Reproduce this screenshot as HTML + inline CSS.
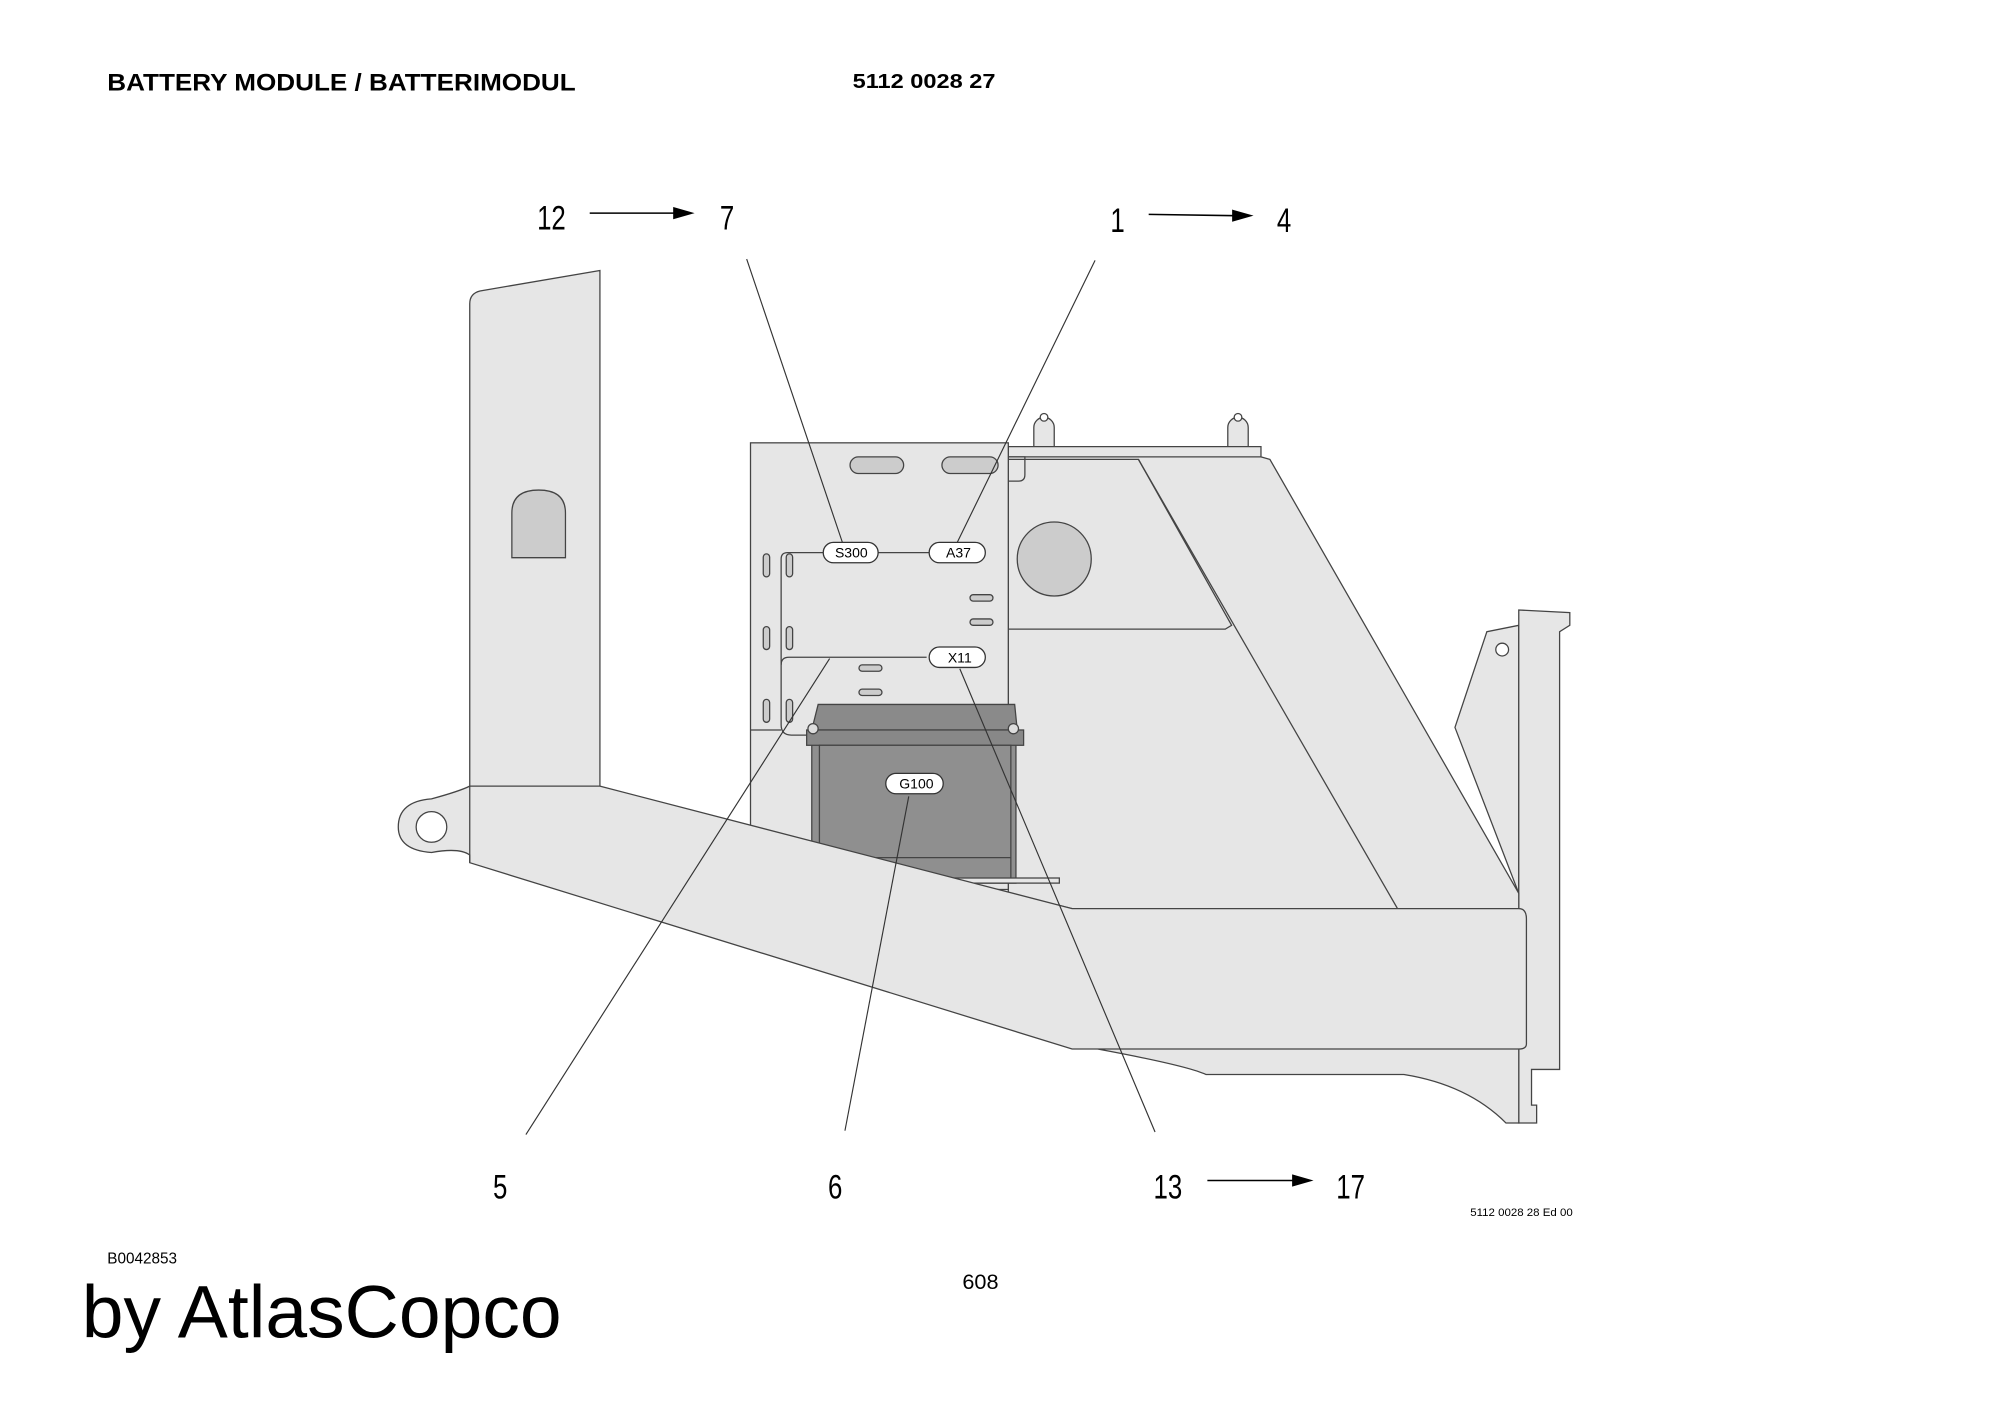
<!DOCTYPE html>
<html><head><meta charset="utf-8"><style>
html,body{margin:0;padding:0;background:#fff;}
svg{display:block;}
</style></head><body>
<svg width="2000" height="1414" viewBox="0 0 1567 1108" xmlns="http://www.w3.org/2000/svg">
<rect width="1567" height="1108" fill="#fff"/>
<g font-family="Liberation Sans, Arial, sans-serif" fill="#000">
<text x="84" y="71" font-size="19" font-weight="bold" textLength="367" lengthAdjust="spacingAndGlyphs">BATTERY MODULE / BATTERIMODUL</text>
<text x="668" y="69" font-size="16" font-weight="bold" textLength="112" lengthAdjust="spacingAndGlyphs">5112 0028 27</text>
<text x="1152" y="953" font-size="9">5112 0028 28 Ed 00</text>
<text x="84" y="990" font-size="12">B0042853</text>
<text x="754" y="1010" font-size="17">608</text>
<text x="64" y="1048" font-size="58" textLength="376" lengthAdjust="spacingAndGlyphs">by AtlasCopco</text>
</g>
<g font-family="Liberation Sans Narrow, Liberation Sans, sans-serif" font-size="27" fill="#000" transform="scale(0.75,1)">
<text x="561" y="180">12</text>
<text x="752" y="180">7</text>
<text x="1160" y="182">1</text>
<text x="1334" y="182">4</text>
<text x="515" y="939">5</text>
<text x="865" y="939">6</text>
<text x="1205" y="939">13</text>
<text x="1396" y="939">17</text>
</g>
<g stroke="#000" stroke-width="1.2">
<line x1="462" y1="167" x2="530" y2="167"/><polygon points="528,163 542,167 528,171" fill="#000"/>
<line x1="900" y1="168" x2="968" y2="169"/><polygon points="966,165 980,169 966,173" fill="#000"/>
<line x1="946" y1="925" x2="1015" y2="925"/><polygon points="1013,921 1027,925 1013,929" fill="#000"/>
</g>
<g stroke="#444" stroke-width="1" fill="#e6e6e6">
<path d="M1140,570 L1165,495 L1190,490 L1190,700 Z"/>
<path d="M1190,478 L1230,480 L1230,490 L1222,495 L1222,838 L1200,838 L1200,866 L1204,866 L1204,880 L1190,880 Z"/>
<circle cx="1177" cy="509" r="5" fill="#fff"/>
<path d="M810,335 a8,8 0 0 1 16,0 L826,350 L810,350 Z"/><circle cx="818" cy="327" r="3" fill="#fff"/>
<path d="M962,335 a8,8 0 0 1 16,0 L978,350 L962,350 Z"/><circle cx="970" cy="327" r="3" fill="#fff"/>
<path d="M790,350 L988,350 L988,358 L995,360 L1190,700 L1190,712 L840,712 L790,700 Z"/>
<line x1="790" y1="358" x2="988" y2="358"/>
<path d="M892,360 L1095,712" fill="none"/>
<path d="M790,360 L892,360 L965,490 L960,493 L790,493" fill="none"/>
<circle cx="826" cy="438" r="29" fill="#ccc"/>
<path d="M368,238 Q368,230 376,228 L470,212 L470,618 L368,618 Z"/>
<path d="M401,437 L401,402 Q401,384 422,384 Q443,384 443,402 L443,437 Z" fill="#ccc"/>
<rect x="588" y="347" width="202" height="350"/>
<path d="M790,358 L803,358 L803,372 Q803,377 798,377 L790,377" fill="none"/>
<rect x="666" y="358" width="42" height="13" rx="6.5" fill="#ccc"/>
<rect x="738" y="358" width="44" height="13" rx="6.5" fill="#ccc"/>
<path d="M660,433 L617,433 Q612,433 612,438 L612,568 Q612,576 620,576 L640,576" fill="none"/>
<path d="M726,515 L618,515 Q612,515 612,521" fill="none"/>
<line x1="588" y1="572" x2="612" y2="572"/>
<line x1="686" y1="433" x2="730" y2="433"/>
<g fill="#ccc">
<rect x="598" y="434" width="5" height="18" rx="2.5"/><rect x="616" y="434" width="5" height="18" rx="2.5"/>
<rect x="598" y="491" width="5" height="18" rx="2.5"/><rect x="616" y="491" width="5" height="18" rx="2.5"/>
<rect x="598" y="548" width="5" height="18" rx="2.5"/><rect x="616" y="548" width="5" height="18" rx="2.5"/>
<rect x="760" y="466" width="18" height="5" rx="2.5"/><rect x="760" y="485" width="18" height="5" rx="2.5"/>
<rect x="673" y="521" width="18" height="5" rx="2.5"/><rect x="673" y="540" width="18" height="5" rx="2.5"/>
</g>
<rect x="636" y="572" width="160" height="120" fill="#8f8f8f"/>
<path d="M641,552 L795,552 L797,572 L636,572 Z" fill="#8a8a8a"/>
<rect x="632" y="572" width="170" height="12" fill="#888"/>
<rect x="642" y="584" width="150" height="106" fill="#8f8f8f"/>
<line x1="642" y1="672" x2="792" y2="672"/>
<circle cx="637" cy="571" r="4" fill="#ddd"/><circle cx="794" cy="571" r="4" fill="#ddd"/>
<rect x="700" y="688" width="130" height="4" fill="#e6e6e6"/>
<path d="M338,626 Q360,620 368,616 L470,616 L840,712 L1190,712 Q1196,712 1196,720 L1196,818 Q1196,822 1190,822 L860,822 Q930,835 945,842 L1100,842 Q1150,850 1180,880 L1190,880 L1190,822 L840,822 L368,676 L368,670 Q360,664 338,668 Q312,666 312,648 Q312,628 338,626 Z"/>
<circle cx="338" cy="648" r="12" fill="#fff"/>
<line x1="368" y1="616" x2="368" y2="676"/>
</g>
<g stroke="#333" stroke-width="0.9" fill="none">
<line x1="585" y1="203" x2="660" y2="425"/>
<line x1="858" y1="204" x2="750" y2="425"/>
<line x1="412" y1="889" x2="650" y2="516"/>
<line x1="662" y1="886" x2="712" y2="624"/>
<line x1="905" y1="887" x2="752" y2="524"/>
</g>
<g stroke="#333" stroke-width="1" fill="#fff">
<rect x="645" y="425" width="43" height="16" rx="8"/>
<rect x="728" y="425" width="44" height="16" rx="8"/>
<rect x="728" y="507" width="44" height="16" rx="8"/>
<rect x="694" y="606" width="45" height="16" rx="8"/>
</g>
<g font-family="Liberation Sans, sans-serif" font-size="11" fill="#000" text-anchor="middle">
<text x="667" y="437">S300</text>
<text x="751" y="437">A37</text>
<text x="752" y="519">X11</text>
<text x="718" y="618">G100</text>
</g>
</svg>
</body></html>
